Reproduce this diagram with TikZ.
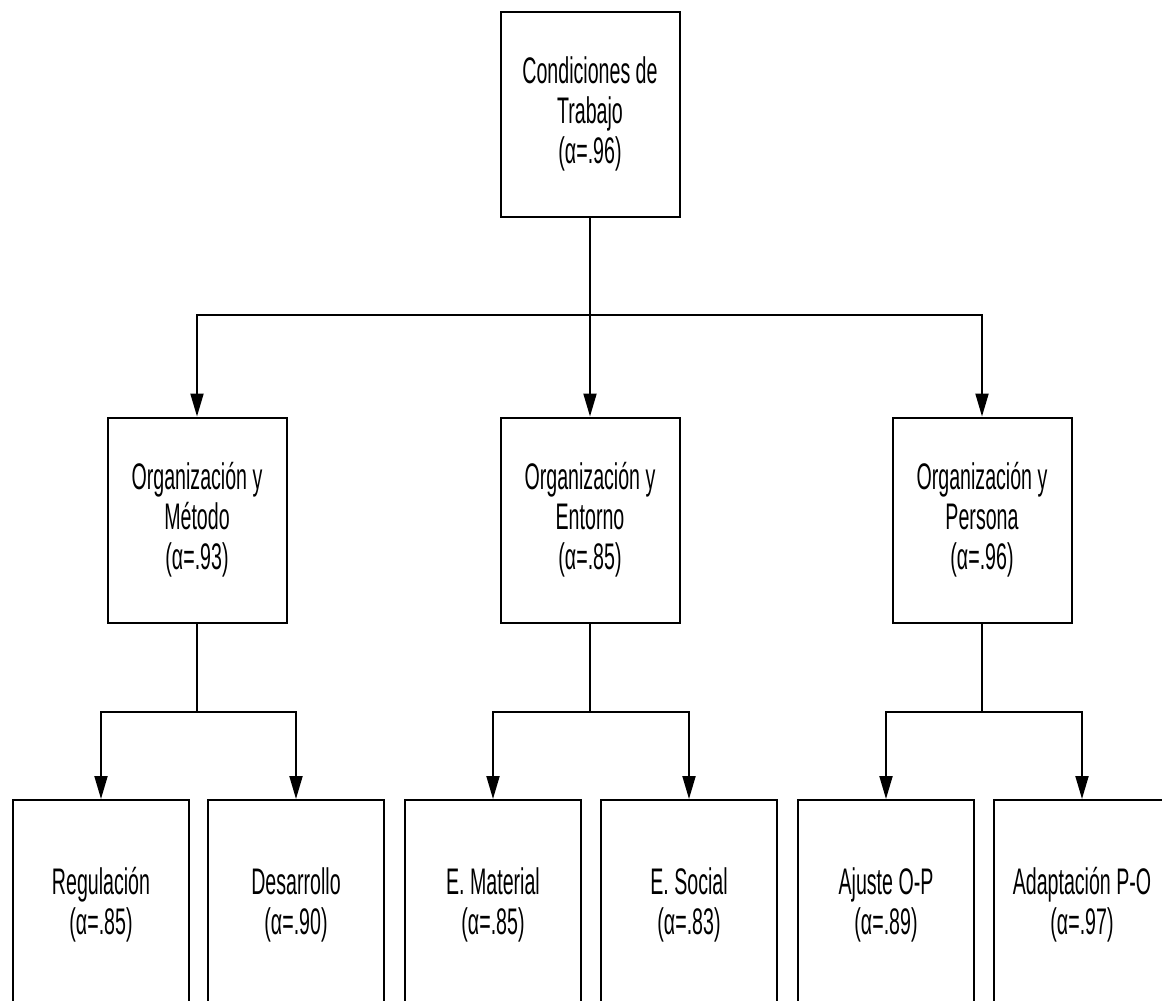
\documentclass[tikz,border=0pt]{standalone}
\usepackage{fontspec}
\setmainfont[FakeStretch=0.53]{Liberation Sans}
\usepackage{tikz}
\usetikzlibrary{arrows.meta,positioning,calc}
\tikzstyle{box}=[draw,line width=2pt,minimum width=179pt,minimum height=205pt,inner sep=0pt,align=center,font=\fontsize{37}{40}\selectfont]
\tikzstyle{leaf}=[box,minimum width=176pt,minimum height=210pt]
\tikzstyle{arrow}=[line width=2pt,-{Triangle[length=23pt,width=13pt]}]

\begin{document}
\begin{tikzpicture}[x=1pt,y=-1pt,line width=2pt]
\useasboundingbox (0,0) rectangle (1162,1001);
\clip (0,0) rectangle (1162,1001);

\node [box] (r) at (590,114) {Condiciones de\\Trabajo\\(α=.96)};

\node [box] (om) at (197,520) {Organización y\\Método\\(α=.93)};
\node [box] (oe) at (590,520) {Organización y\\Entorno\\(α=.85)};
\node [box] (op) at (982,520) {Organización y\\Persona\\(α=.96)};

\node [leaf] (reg) at (101,905) {Regulación\\(α=.85)};
\node [leaf] (des) at (296,905) {Desarrollo\\(α=.90)};
\node [leaf] (ema) at (493,905) {E. Material\\(α=.85)};
\node [leaf] (eso) at (689,905) {E. Social\\(α=.83)};
\node [leaf] (ajo) at (886,905) {Ajuste O-P\\(α=.89)};
\node [leaf] (adp) at (1082,905) {Adaptación P-O\\(α=.97)};

% branch points
\coordinate (j0) at (590,315);
\coordinate (j1) at (197,712);
\coordinate (j2) at (590,712);
\coordinate (j3) at (982,712);

\draw (r) -- (j0);
\draw [arrow] (j0) -| (om);
\draw [arrow] (j0) -- (oe);
\draw [arrow] (j0) -| (op);

\draw (om) -- (j1);
\draw [arrow] (j1) -| (reg);
\draw [arrow] (j1) -| (des);

\draw (oe) -- (j2);
\draw [arrow] (j2) -| (ema);
\draw [arrow] (j2) -| (eso);

\draw (op) -- (j3);
\draw [arrow] (j3) -| (ajo);
\draw [arrow] (j3) -| (adp);

\end{tikzpicture}
\end{document}
